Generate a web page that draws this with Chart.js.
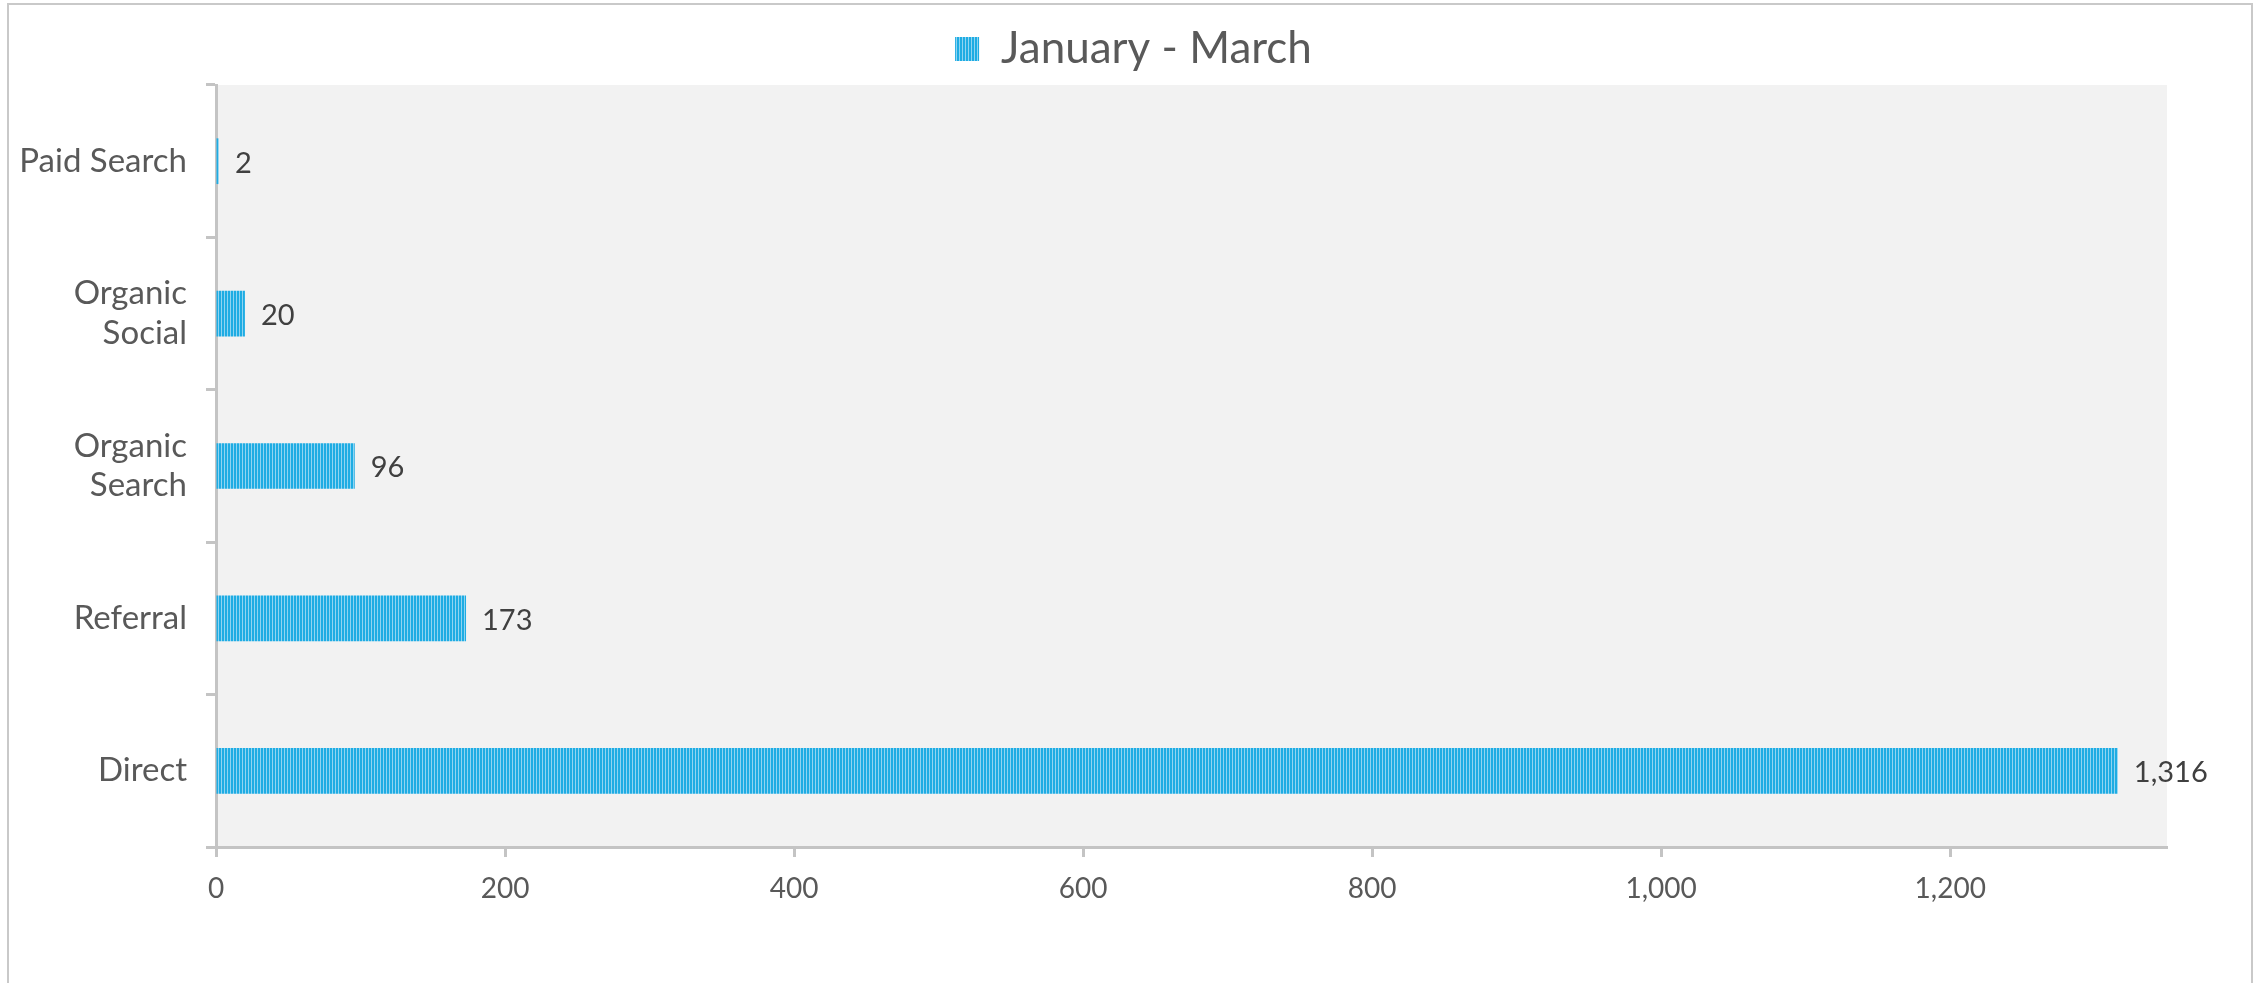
<!DOCTYPE html>
<html>
<head>
<meta charset="utf-8">
<script src="https://cdn.jsdelivr.net/npm/chart.js@4.4.0/dist/chart.umd.min.js"></script>
<style>
  html, body { margin: 0; padding: 0; background: #fff; }
  #frame {
    position: absolute; left: 7px; top: 3px; width: 2246px; height: 1010px;
    border: 2px solid #c9c9c9; box-sizing: border-box;
  }
  #wrap { position: absolute; left: 0; top: 0; width: 2267px; height: 983px; }
</style>
</head>
<body>
<div id="frame"></div>
<div id="wrap"><canvas id="chart"></canvas></div>
<script>
  /************************************************
   *  DATA
   ************************************************/
  const channels = [["Paid Search"], ["Organic", "Social"], ["Organic", "Search"], ["Referral"], ["Direct"]];
  const sessions = [2, 20, 96, 173, 1316];
  const seriesLabel = "January - March";
  const axisMax = 1350;
  const axisStep = 200;

  const FONT = "Lato, 'Open Sans', sans-serif";

  // striped fill like the original bars
  function makeStripes() {
    const c = document.createElement("canvas");
    c.width = 3;
    c.height = 4;
    const g = c.getContext("2d");
    g.fillStyle = "#1eace3";
    g.fillRect(0, 0, 2, 4);
    g.fillStyle = "#8fd4f1";
    g.fillRect(2, 0, 1, 4);
    return g.createPattern(c, "repeat");
  }
  const stripes = makeStripes();

  // grey plot background
  const plotBg = {
    id: "plotBg",
    beforeDraw(chart) {
      const { ctx, chartArea: a } = chart;
      ctx.save();
      ctx.fillStyle = "#f2f2f2";
      ctx.fillRect(a.left, a.top, a.right - a.left, a.bottom - a.top);
      ctx.restore();
    },
  };

  // value labels right of each bar
  const barValues = {
    id: "barValues",
    afterDatasetsDraw(chart) {
      const { ctx } = chart;
      const meta = chart.getDatasetMeta(0);
      ctx.save();
      ctx.font = "29px " + FONT;
      ctx.fillStyle = "#404040";
      ctx.textAlign = "left";
      ctx.textBaseline = "middle";
      meta.data.forEach((bar, i) => {
        ctx.fillText(sessions[i].toLocaleString("en-US"), bar.x + 16, bar.y + 2);
      });
      ctx.restore();
    },
  };

  // fixed legend height, and centre it on the whole canvas
  const legendPlace = {
    id: "legendPlace",
    beforeInit(chart) {
      const fit = chart.legend.fit;
      chart.legend.fit = function () {
        fit.bind(chart.legend)();
        this.height = 85;
      };
    },
    afterLayout(chart) {
      chart.legend.left = 0;
      chart.legend.right = chart.width;
      chart.legend.width = chart.width;
    },
  };

  const ctx = document.getElementById("chart").getContext("2d");
  new Chart(ctx, {
    type: "bar",
    data: {
      labels: channels,
      datasets: [
        {
          label: seriesLabel,
          data: sessions,
          backgroundColor: stripes,
          borderWidth: 0,
          barPercentage: 0.6,
          categoryPercentage: 0.5,
        },
      ],
    },
    options: {
      indexAxis: "y",
      responsive: true,
      maintainAspectRatio: false,
      animation: false,
      devicePixelRatio: 1,
      layout: { padding: { left: 0, right: 100, top: 0, bottom: 0 } },
      plugins: {
        tooltip: { enabled: false },
        legend: {
          position: "top",
          labels: {
            font: { family: FONT, size: 44 },
            color: "#595959",
            boxWidth: 24,
            boxHeight: 24,
            padding: 27,
          },
        },
      },
      scales: {
        x: {
          min: 0,
          max: axisMax,
          ticks: {
            stepSize: axisStep,
            font: { family: FONT, size: 28 },
            color: "#595959",
            padding: 15,
          },
          afterBuildTicks(scale) {
            scale.ticks = scale.ticks.filter((t) => t.value % axisStep === 0);
          },
          afterFit(scale) {
            scale.height = 136;
          },
          grid: {
            drawOnChartArea: false,
            tickLength: 10,
            tickColor: "#c4c4c4",
            tickWidth: 3,
          },
          border: { display: true, color: "#c4c4c4", width: 3 },
        },
        y: {
          ticks: {
            font: { family: FONT, size: 33, lineHeight: 1.2 },
            color: "#595959",
            padding: 19,
          },
          afterFit(scale) {
            scale.width = 216;
          },
          grid: {
            offset: true,
            drawOnChartArea: false,
            tickLength: 10,
            tickColor: "#c4c4c4",
            tickWidth: 3,
          },
          border: { display: true, color: "#c4c4c4", width: 3 },
        },
      },
    },
    plugins: [plotBg, barValues, legendPlace],
  });
</script>
</body>
</html>
